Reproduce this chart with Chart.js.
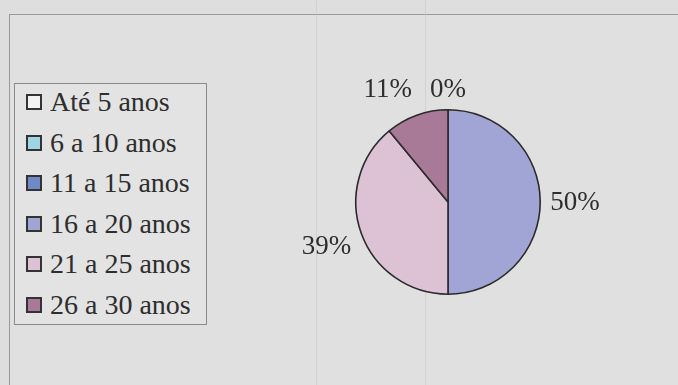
<!DOCTYPE html>
<html>
<head>
<meta charset="utf-8">
<script src="https://cdn.jsdelivr.net/npm/chart.js@4"></script>
<style>
  html, body { margin: 0; padding: 0; }
  body { width: 678px; height: 385px; background: #dedede; position: relative; overflow: hidden;
         font-family: "Liberation Serif", "Times New Roman", serif; }
  #frame { position: absolute; left: 9px; top: 14px; width: 700px; height: 400px;
           border-left: 1px solid #9a9a9a; border-top: 1px solid #9a9a9a; background: #e0e0e0; }
  .streak { position: absolute; top: 0; width: 1px; height: 385px; background: rgba(200,200,200,0.6); }
  #legend { position: absolute; left: 14px; top: 83px; width: 193px; height: 242px;
            border: 1px solid #8a8a8a; background: #e3e3e3; box-sizing: border-box; }
  .item { position: absolute; left: 11px; height: 30px; display: flex; align-items: center;
          font-size: 28px; color: #2e2e2e; white-space: nowrap; }
  .sw { width: 12px; height: 12px; border: 2px solid #333; margin-right: 8px; flex: none; }
  #pie { position: absolute; left: 268px; top: 62px; width: 360px; height: 280px; }
</style>
</head>
<body>
<div id="frame"></div>
<div class="streak" style="left:316px"></div>
<div class="streak" style="left:425px"></div>
<div id="legend"></div>
<div id="pie"><canvas id="c"></canvas></div>
<script>
// Faixas de tempo e percentagens
const categories = ['Até 5 anos', '6 a 10 anos', '11 a 15 anos', '16 a 20 anos', '21 a 25 anos', '26 a 30 anos'];
const percentages = [0, null, null, 50, 39, 11];
const sliceColors = ['#f2f2f2', '#9fd6e6', '#6f88c6', '#a1a5d6', '#ddc1d4', '#a87a98'];

const LABEL_FONT = '27px "Liberation Serif", "Times New Roman", serif';

// Rótulos de percentagem fora de cada fatia, afastados quando se sobrepõem
const outsideLabels = {
  id: 'outsideLabels',
  afterDatasetsDraw(chart) {
    const ctx = chart.ctx;
    const meta = chart.getDatasetMeta(0);
    const ds = chart.data.datasets[0];
    ctx.save();
    ctx.font = LABEL_FONT;
    ctx.fillStyle = '#2e2e2e';
    ctx.textAlign = 'center';
    ctx.textBaseline = 'middle';
    const boxes = [];
    meta.data.forEach((arc, i) => {
      const v = ds.data[i];
      if (v === null || v === undefined) return;
      const p = arc.getProps(['x', 'y', 'startAngle', 'endAngle', 'outerRadius'], true);
      const mid = (p.startAngle + p.endAngle) / 2;
      const text = v + '%';
      const w = ctx.measureText(text).width;
      const h = 21;
      const cx = Math.cos(mid), sy = Math.sin(mid);
      const off = p.outerRadius + 10 + (w / 2) * Math.abs(cx) + (h / 2) * Math.abs(sy);
      boxes.push({ text, w, h, x: p.x + cx * off, y: p.y + sy * off });
    });
    // empurra para a esquerda o rótulo que colide com o seguinte
    const pad = 18;
    for (let a = 0; a < boxes.length; a++) {
      for (let b = 0; b < boxes.length; b++) {
        if (a === b) continue;
        const A = boxes[a], B = boxes[b];
        if (Math.abs(A.y - B.y) < (A.h + B.h) / 2 && A.x < B.x) {
          const need = (A.w + B.w) / 2 + pad;
          if (B.x - A.x < need) A.x = B.x - need;
        }
      }
    }
    boxes.forEach(bx => ctx.fillText(bx.text, bx.x, bx.y + 1));
    ctx.restore();
  }
};

const chart = new Chart(document.getElementById('c'), {
  type: 'pie',
  data: {
    labels: categories,
    datasets: [{
      data: percentages,
      backgroundColor: sliceColors,
      borderColor: '#2b2b2b',
      borderWidth: 1.6
    }]
  },
  options: {
    responsive: true,
    maintainAspectRatio: false,
    animation: false,
    layout: { padding: 47 },
    plugins: { legend: { display: false }, tooltip: { enabled: false } }
  },
  plugins: [outsideLabels]
});

// Legenda construída a partir dos dados do gráfico
const legend = document.getElementById('legend');
chart.data.labels.forEach((lab, i) => {
  const row = document.createElement('div');
  row.className = 'item';
  row.style.top = (3 + i * 40.6) + 'px';
  const sw = document.createElement('span');
  sw.className = 'sw';
  sw.style.background = chart.data.datasets[0].backgroundColor[i];
  row.appendChild(sw);
  row.appendChild(document.createTextNode(lab));
  legend.appendChild(row);
});
</script>
</body>
</html>
